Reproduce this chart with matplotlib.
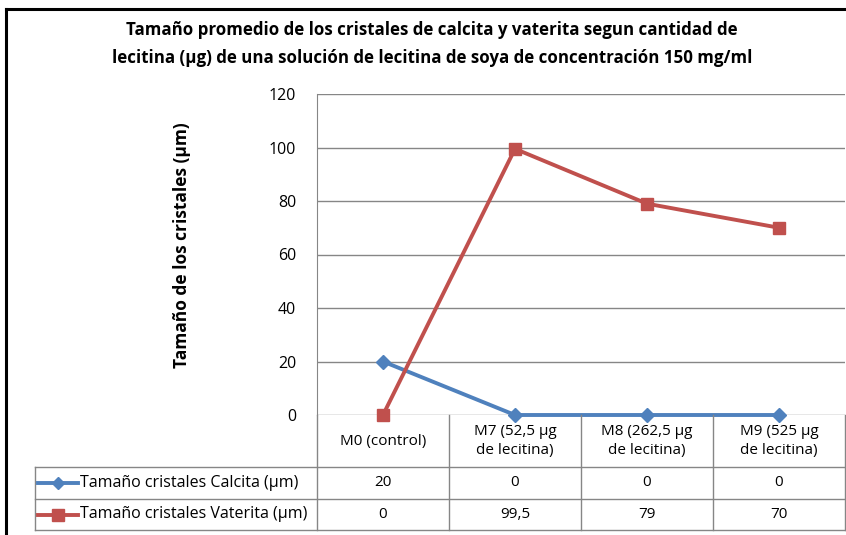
import numpy as np
import matplotlib.pyplot as plt
from matplotlib.lines import Line2D

categories = ["M0 (control)", "M7 (52,5 µg\nde lecitina)", "M8 (262,5 µg\nde lecitina)", "M9 (525 µg\nde lecitina)"]
calcita = [20, 0, 0, 0]
vaterita = [0, 99.5, 79, 70]
calcita_txt = ["20", "0", "0", "0"]
vaterita_txt = ["0", "99,5", "79", "70"]
series_names = ["Tamaño cristales Calcita (µm)", "Tamaño cristales Vaterita (µm)"]
yticks = [0, 20, 40, 60, 80, 100, 120]

plt.rcParams['font.family'] = ['Open Sans', 'DejaVu Sans']
W, H = 846, 535
fig = plt.figure(figsize=(W / 100, H / 100), dpi=100)

def fx(px):
    return px / W

def fy(py):
    return 1 - py / H

blue = '#4F81BD'
red = '#C0504D'
grid = '#868686'

x0, x1, ytop, ybot = 317, 845, 94, 415
ax = fig.add_axes([fx(x0), fy(ybot), fx(x1) - fx(x0), fy(ytop) - fy(ybot)])
x = np.arange(len(categories))
ax.set_xlim(-0.5, len(categories) - 0.5)
ax.set_ylim(0, 120)
ax.set_yticks(yticks)
ax.set_yticklabels([str(v) for v in yticks], fontsize=11.5)
ax.set_xticks([])
for s in ['top', 'right', 'bottom']:
    ax.spines[s].set_visible(False)
ax.spines['left'].set_color(grid)
ax.tick_params(axis='y', length=0, pad=15)
ax.yaxis.grid(True, color=grid, lw=1)
ax.set_axisbelow(True)

ax.plot(x, calcita, color=blue, lw=2.8, marker='D', ms=7, clip_on=False, zorder=3)
ax.plot(x, vaterita, color=red, lw=2.8, marker='s', ms=9, clip_on=False, zorder=4)

# data table below the plot
row1, row2, row3 = 467, 499, 530
tleft = 35
col_w = (x1 - x0) / len(categories)
lines = [
    ([x0, x0], [ybot, row3]),
    ([x1, x1], [ybot, row3]),
    ([tleft, tleft], [row1, row3]),
    ([tleft, x1], [row1, row1]),
    ([tleft, x1], [row2, row2]),
    ([tleft, x1], [row3, row3]),
]
for i in range(1, len(categories)):
    cx = x0 + i * col_w
    lines.append(([cx, cx], [ybot, row3]))
for xs, ys in lines:
    fig.add_artist(Line2D([fx(v) for v in xs], [fy(v) for v in ys], color=grid, lw=1))

fs = 11
for i, cat in enumerate(categories):
    cx = x0 + (i + 0.5) * col_w
    fig.text(fx(cx), fy((ybot + row1) / 2), cat, ha='center', va='center',
             fontsize=fs, linespacing=1.45)
    fig.text(fx(cx), fy((row1 + row2) / 2), calcita_txt[i], ha='center', va='center', fontsize=fs)
    fig.text(fx(cx), fy((row2 + row3) / 2), vaterita_txt[i], ha='center', va='center', fontsize=fs)

for (name, col, mk, ms), (ra, rb) in zip(
        [(series_names[0], blue, 'D', 6), (series_names[1], red, 's', 9)],
        [(row1, row2), (row2, row3)]):
    yc = fy((ra + rb) / 2)
    fig.add_artist(Line2D([fx(38), fx(78)], [yc, yc], color=col, lw=2.8))
    fig.add_artist(Line2D([fx(58)], [yc], color=col, marker=mk, ms=ms, lw=0))
    fig.text(fx(80), yc, name, ha='left', va='center', fontsize=11.5)

fig.text(fx(182), fy(245), "Tamaño de los cristales (µm)", rotation=90,
         ha='center', va='center', fontsize=12.5, fontweight='bold')
fig.text(fx(432), fy(44), "Tamaño promedio de los cristales de calcita y vaterita segun cantidad de\n"
         "lecitina (µg) de una solución de lecitina de soya de concentración 150 mg/ml",
         ha='center', va='center', fontsize=12.2, fontweight='bold', linespacing=1.7)

# chart frame
fig.add_artist(Line2D([fx(6), fx(846)], [fy(9), fy(9)], color='black', lw=2.2))
fig.add_artist(Line2D([fx(6), fx(6)], [fy(9), fy(535)], color='black', lw=2.2))

fig.savefig('out.png', dpi=100)
